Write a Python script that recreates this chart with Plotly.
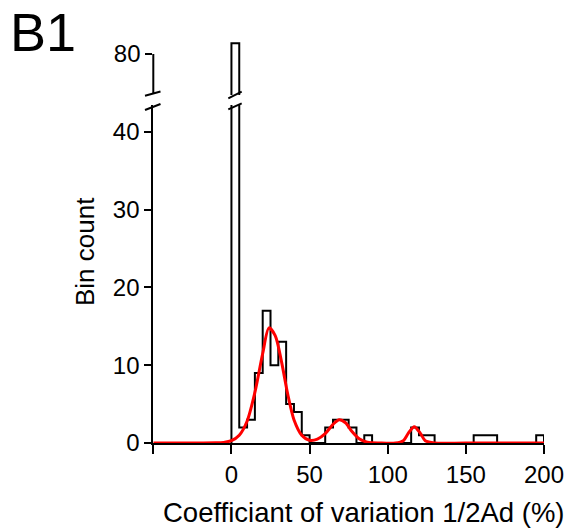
import plotly.graph_objects as go

W, H = 574, 529

# ---- data ----
bin_width = 5
bin_counts = [81, 2, 3, 9, 17, 10, 13, 5, 4, 1,
              0, 0, 2, 3, 3, 2, 0, 1, 0, 0,
              0, 0, 0, 2, 1, 1, 0, 0, 0, 0,
              0, 1, 1, 1, 0, 0, 0, 0, 0, 1]
fit_x = [-50, -20, -10, -5, 0, 5, 10, 15, 20, 24, 28, 32, 36, 40, 45, 50, 55, 60,
         65, 69, 73, 77, 82, 87, 95, 105, 110, 113, 117, 121, 124, 130, 150, 200]
fit_y = [0, 0, 0.02, 0.08, 0.3, 1.0, 2.8, 6.5, 11.5, 14.8, 13.8, 10.5, 6.3, 3.0, 1.0, 0.35, 0.5, 1.2,
         2.4, 3.0, 2.6, 1.5, 0.5, 0.1, 0, 0, 0.3, 1.2, 2.1, 1.2, 0.3, 0, 0, 0]
x_ticks = [-50, 0, 50, 100, 150, 200]
x_ticktext = ["", "0", "50", "100", "150", "200"]
y_low_ticks = [0, 10, 20, 30, 40]
y_high_ticks = [80]

# staircase outline of histogram
edges = [i * bin_width for i in range(len(bin_counts) + 1)]
step_x = [edges[0]] + edges[:-1] + [edges[-1], edges[-1]]
step_y = [0] + bin_counts + [bin_counts[-1], 0]

def px(x):
    return x / W

def py(y):
    return 1 - y / H

FONT = "Liberation Sans, Arial, sans-serif"

fig = go.Figure()
for ya in ["y", "y2"]:
    fig.add_trace(go.Scatter(x=step_x, y=step_y, mode="lines", line_shape="hv",
                             line=dict(color="black", width=2), yaxis=ya,
                             showlegend=False, hoverinfo="skip"))
fig.add_trace(go.Scatter(x=fit_x, y=fit_y, mode="lines", line_shape="spline",
                         line=dict(color="#ff0000", width=3, smoothing=0.8), yaxis="y",
                         showlegend=False, hoverinfo="skip"))

base_px = 443.0
scale_low = 7.78
low_top_px = 105.0
up_bot_px = 95.0
up_top_px = 40.0
y80_px = 54.0
scale_up = 10.7

fig.update_layout(
    width=W, height=H, autosize=False,
    margin=dict(l=0, r=0, t=0, b=0, pad=0, autoexpand=False),
    paper_bgcolor="white", plot_bgcolor="white",
    font=dict(family=FONT, color="black", size=24),
    xaxis=dict(domain=[px(153.3), px(544)], range=[-50, 200], anchor="y",
               tickvals=x_ticks, ticktext=x_ticktext, ticks="outside", ticklen=9,
               tickwidth=2, tickcolor="black", showline=True, linewidth=2, linecolor="black",
               showgrid=False, zeroline=False, tickfont=dict(size=24)),
    yaxis=dict(domain=[py(base_px), py(low_top_px)],
               range=[0, (base_px - low_top_px) / scale_low], anchor="x",
               tickvals=y_low_ticks, ticks="outside", ticklen=7, tickwidth=2,
               tickcolor="black", showline=True, linewidth=2, linecolor="black",
               showgrid=False, zeroline=False, tickfont=dict(size=24)),
    yaxis2=dict(domain=[py(up_bot_px), py(up_top_px)],
                range=[80 - (up_bot_px - y80_px) / scale_up, 80 + (y80_px - up_top_px) / scale_up],
                anchor="x", tickvals=y_high_ticks, ticks="outside", ticklen=7, tickwidth=2,
                tickcolor="black", showline=False, showgrid=False, zeroline=False,
                tickfont=dict(size=24)),
)

shapes = []
# upper y-axis segment
shapes.append(dict(type="line", xref="paper", yref="paper", x0=px(153.3), x1=px(153.3),
                   y0=py(93.5), y1=py(y80_px), line=dict(color="black", width=2)))
# break slashes on axis
shapes.append(dict(type="line", xref="paper", yref="paper", x0=px(145), y0=py(95.7),
                   x1=px(160.5), y1=py(91.5), line=dict(color="black", width=2)))
shapes.append(dict(type="line", xref="paper", yref="paper", x0=px(145), y0=py(110),
                   x1=px(160.5), y1=py(104), line=dict(color="black", width=2)))
# break slashes on tall bar
shapes.append(dict(type="line", xref="paper", yref="paper", x0=px(228.3), y0=py(98.3),
                   x1=px(241.7), y1=py(91.7), line=dict(color="black", width=2)))
shapes.append(dict(type="line", xref="paper", yref="paper", x0=px(228.3), y0=py(109.3),
                   x1=px(241.7), y1=py(103.3), line=dict(color="black", width=2)))
fig.update_layout(shapes=shapes)

fig.add_annotation(text="B1", xref="paper", yref="paper", x=px(8), y=py(32),
                   xanchor="left", yanchor="middle", showarrow=False,
                   font=dict(size=54, family=FONT))
fig.add_annotation(text="Bin count", xref="paper", yref="paper", x=px(85), y=py(252),
                   xanchor="center", yanchor="middle", showarrow=False, textangle=-90,
                   font=dict(size=26, family=FONT))
fig.add_annotation(text="Coefficiant of variation 1/2Ad (%)", xref="paper", yref="paper",
                   x=px(364.5), y=py(512), xanchor="center", yanchor="middle", showarrow=False,
                   font=dict(size=27.5, family=FONT))

fig.write_html("out.html")
